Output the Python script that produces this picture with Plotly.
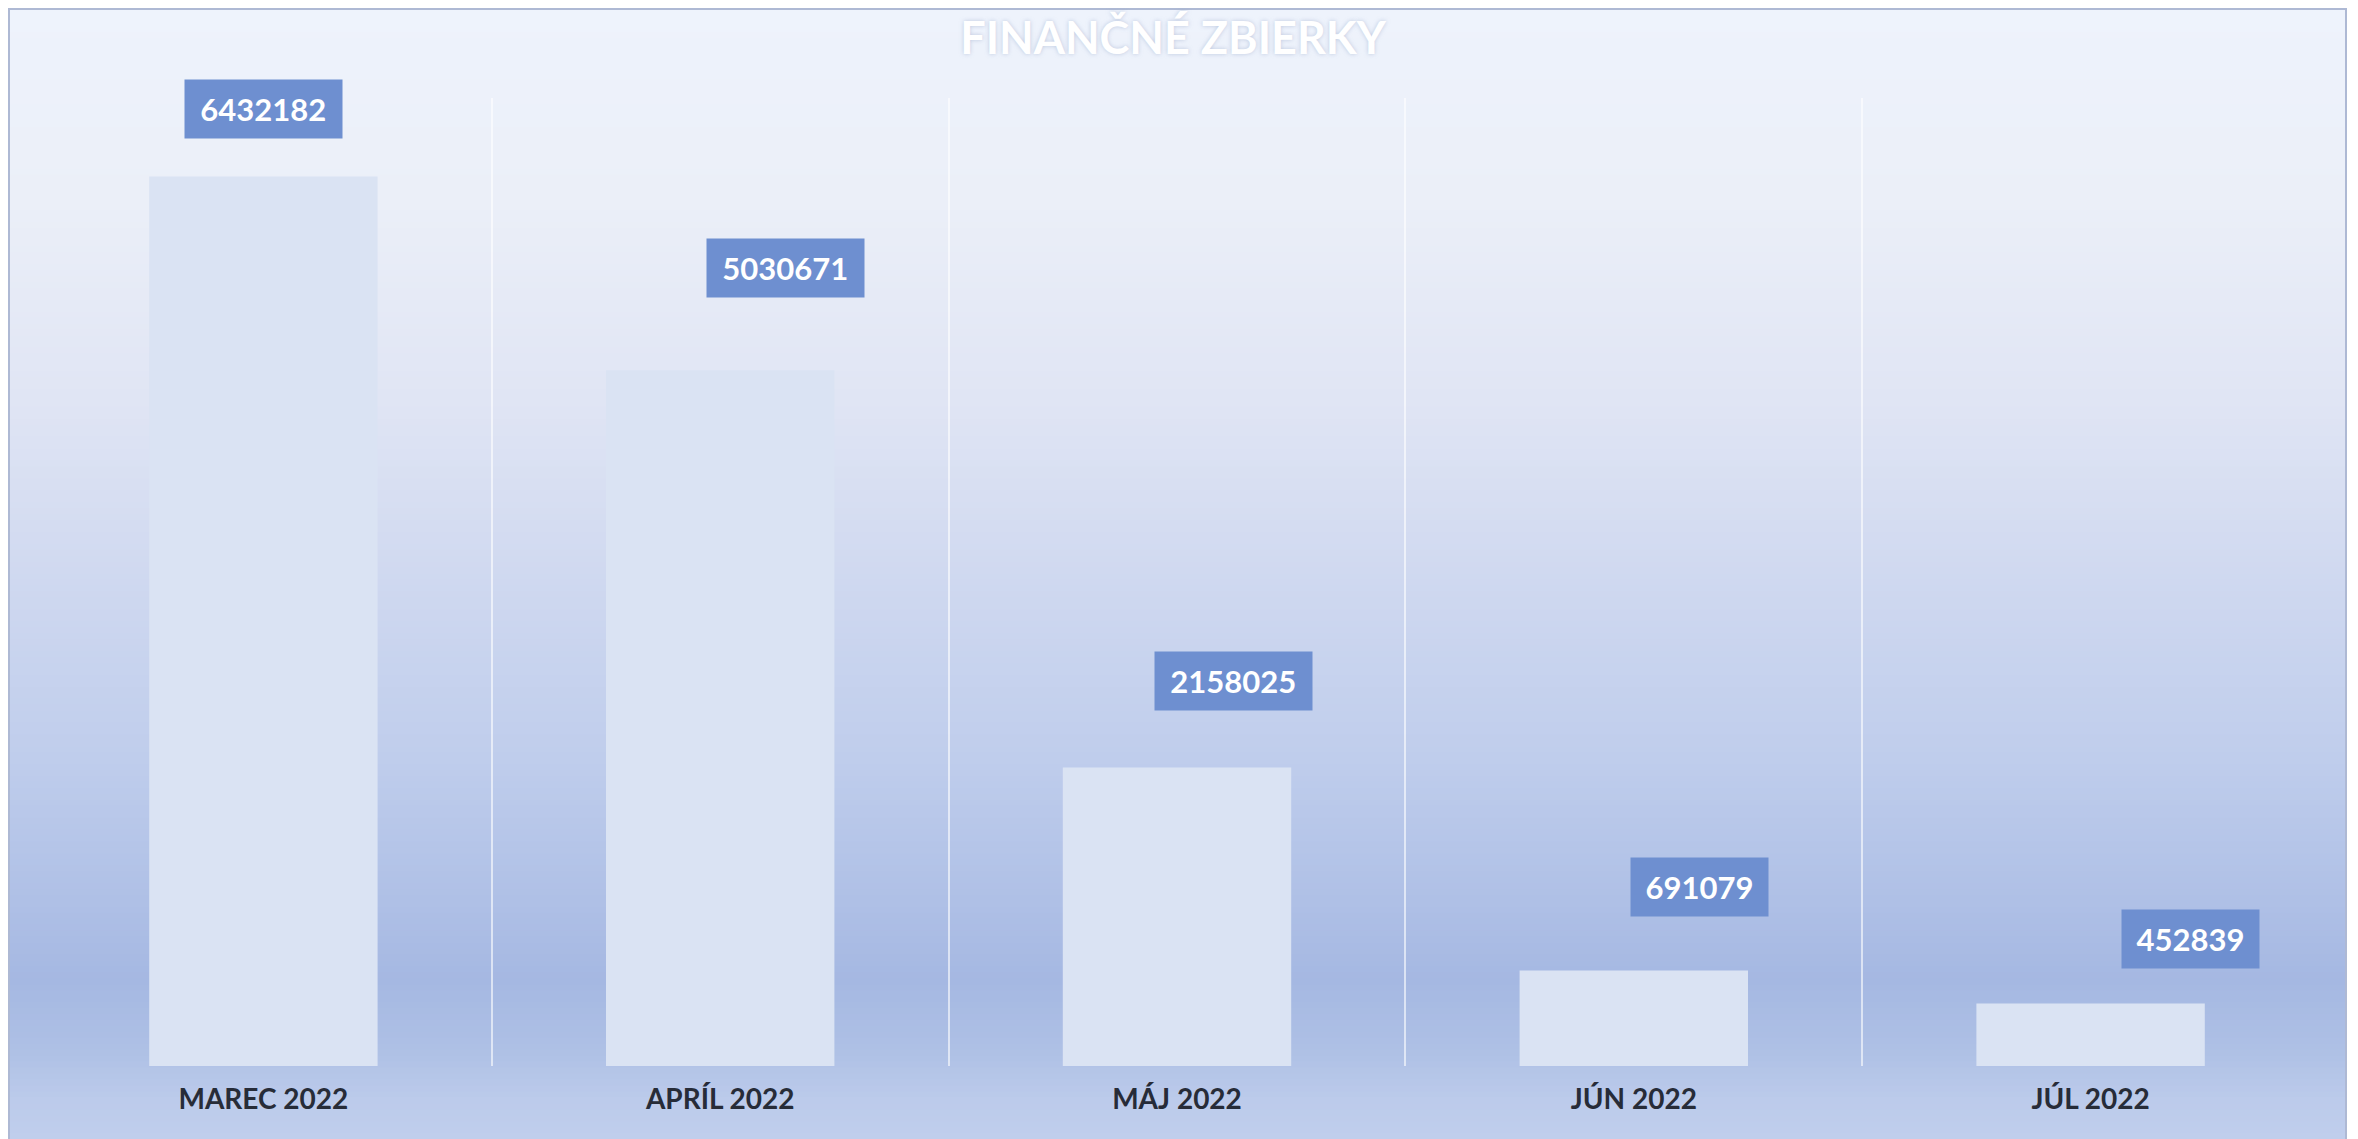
import plotly.graph_objects as go

# ---- data ----
months = ["MAREC 2022", "APRÍL 2022", "MÁJ 2022", "JÚN 2022", "JÚL 2022"]
amounts = [6432182, 5030671, 2158025, 691079, 452839]
chart_title = "FINANČNÉ ZBIERKY"

# ---- layout constants (figure pixels; page adds an 8px body margin) ----
W, H = 2350, 1131
ML, MR, MT, MB = 27, 39, 90, 73
PW, PH = W - ML - MR, H - MT - MB

# label box offsets (pixels) relative to bar top/center, as placed in the original
label_dx = [0, 65, 56, 66, 100]
label_dy = [68, 102, 87, 83, 64]


def px_to_paper_x(px):
    return (px - ML) / PW


def px_to_paper_y(py):
    return (H - MB - py) / PH


# background gradient stops (figure pixel y, rgb)
grad = [
    (0, (238, 243, 252)),
    (192, (235, 239, 248)),
    (392, (224, 229, 244)),
    (562, (208, 217, 240)),
    (752, (191, 205, 236)),
    (892, (175, 192, 230)),
    (972, (165, 184, 226)),
    (1042, (174, 192, 229)),
    (1092, (188, 203, 235)),
    (1131, (192, 206, 236)),
]


def color_at(y):
    for (y0, c0), (y1, c1) in zip(grad[:-1], grad[1:]):
        if y0 <= y <= y1:
            t = (y - y0) / (y1 - y0) if y1 > y0 else 0
            return tuple(round(a + (b - a) * t) for a, b in zip(c0, c1))
    return grad[-1][1]


shapes = []
FX0, FX1, FY0, FY1 = 0, 2338, 0, 1131
n = 190
step = (FY1 - FY0) / n
for i in range(n):
    y0 = FY0 + i * step
    y1 = y0 + step + 1.0
    c = color_at(y0 + step / 2)
    shapes.append(dict(
        type="rect", xref="paper", yref="paper", layer="below",
        x0=px_to_paper_x(FX0), x1=px_to_paper_x(FX1),
        y0=px_to_paper_y(min(y1, FY1)), y1=px_to_paper_y(y0),
        fillcolor="rgb(%d,%d,%d)" % c, line=dict(width=0),
    ))
# frame
shapes.append(dict(
    type="rect", xref="paper", yref="paper", layer="above",
    x0=px_to_paper_x(FX0 + 1), x1=px_to_paper_x(FX1),
    y0=px_to_paper_y(FY1 + 2), y1=px_to_paper_y(FY0 + 1),
    fillcolor="rgba(0,0,0,0)", line=dict(width=2, color="#AEB9D4"),
))

fig = go.Figure()
fig.add_trace(go.Bar(
    x=months, y=amounts, width=0.5,
    marker=dict(color="#DAE3F3", line=dict(width=0)),
    hoverinfo="x+y",
))

annotations = []
for i, (m, v) in enumerate(zip(months, amounts)):
    annotations.append(dict(
        x=m, y=v, xref="x", yref="y", text=str(v), showarrow=False,
        xshift=label_dx[i], yshift=label_dy[i],
        width=len(str(v)) * 19.5,
        font=dict(family="Lato", size=31, color="white", weight="bold"),
        bgcolor="#6E8FD0", borderpad=10,
    ))

fig.update_layout(
    width=W, height=H,
    margin=dict(l=ML, r=MR, t=MT, b=MB),
    paper_bgcolor="white",
    plot_bgcolor="rgba(0,0,0,0)",
    shapes=shapes,
    annotations=annotations,
    showlegend=False,
    title=dict(
        text=chart_title, x=1165 / W, xanchor="center", xref="container",
        y=1 - 30 / H, yanchor="middle", yref="container",
        font=dict(family="Lato", size=45, color="white", weight="bold",
                  shadow="0px 0px 4px rgba(150,165,200,0.55)"),
    ),
    xaxis=dict(
        type="category", tickson="boundaries", showgrid=True,
        gridcolor="rgba(255,255,255,0.6)", gridwidth=2,
        showline=False, zeroline=False, ticks="",
        tickfont=dict(family="Lato", size=28, color="#272C38", weight="bold"),
        ticklabelstandoff=14,
    ),
    yaxis=dict(
        range=[0, 7000000], showgrid=False, zeroline=False,
        showticklabels=False, showline=False,
    ),
    bargap=0.5,
)

fig.write_html("out.html")
